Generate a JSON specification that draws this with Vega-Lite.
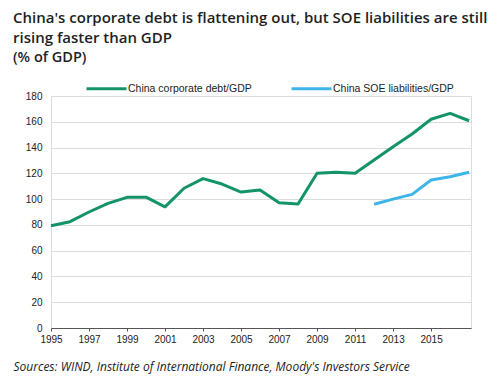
{
  "$schema": "https://vega.github.io/schema/vega-lite/v6.json",
  "autosize": "none",
  "width": 420,
  "height": 232,
  "padding": {"left": 51, "top": 96, "right": 29, "bottom": 60},
  "background": "white",
  "title": {
    "text": ["China's corporate debt is flattening out, but SOE liabilities are still", "rising faster than GDP"],
    "subtitle": "(% of GDP)",
    "anchor": "start",
    "frame": "group",
    "dx": -38,
    "font": "Open Sans",
    "fontSize": 15,
    "fontWeight": 600,
    "color": "#1f1f1f",
    "lineHeight": 20,
    "subtitleFont": "Open Sans",
    "subtitleFontSize": 14.5,
    "subtitleFontWeight": 600,
    "subtitleColor": "#1f1f1f",
    "subtitlePadding": 5,
    "offset": 3
  },
  "data": {
    "values": [
      {"year": 1995, "series": "China corporate debt/GDP", "value": 79.4},
      {"year": 1996, "series": "China corporate debt/GDP", "value": 82.5},
      {"year": 1997, "series": "China corporate debt/GDP", "value": 90},
      {"year": 1998, "series": "China corporate debt/GDP", "value": 96.7},
      {"year": 1999, "series": "China corporate debt/GDP", "value": 101.4},
      {"year": 2000, "series": "China corporate debt/GDP", "value": 101.5},
      {"year": 2001, "series": "China corporate debt/GDP", "value": 94},
      {"year": 2002, "series": "China corporate debt/GDP", "value": 108.4},
      {"year": 2003, "series": "China corporate debt/GDP", "value": 115.9},
      {"year": 2004, "series": "China corporate debt/GDP", "value": 111.7},
      {"year": 2005, "series": "China corporate debt/GDP", "value": 105.5},
      {"year": 2006, "series": "China corporate debt/GDP", "value": 107},
      {"year": 2007, "series": "China corporate debt/GDP", "value": 97.2},
      {"year": 2008, "series": "China corporate debt/GDP", "value": 96.2},
      {"year": 2009, "series": "China corporate debt/GDP", "value": 120},
      {"year": 2010, "series": "China corporate debt/GDP", "value": 120.8},
      {"year": 2011, "series": "China corporate debt/GDP", "value": 120},
      {"year": 2012, "series": "China corporate debt/GDP", "value": 130.3},
      {"year": 2013, "series": "China corporate debt/GDP", "value": 140.7},
      {"year": 2014, "series": "China corporate debt/GDP", "value": 150.5},
      {"year": 2015, "series": "China corporate debt/GDP", "value": 162},
      {"year": 2016, "series": "China corporate debt/GDP", "value": 166.5},
      {"year": 2017, "series": "China corporate debt/GDP", "value": 160.8},
      {"year": 2012, "series": "China SOE liabilities/GDP", "value": 96},
      {"year": 2013, "series": "China SOE liabilities/GDP", "value": 100},
      {"year": 2014, "series": "China SOE liabilities/GDP", "value": 103.7},
      {"year": 2015, "series": "China SOE liabilities/GDP", "value": 114.8},
      {"year": 2016, "series": "China SOE liabilities/GDP", "value": 117.4},
      {"year": 2017, "series": "China SOE liabilities/GDP", "value": 120.8}
    ]
  },
  "mark": {"type": "line", "strokeWidth": 3, "strokeJoin": "round"},
  "encoding": {
    "x": {
      "field": "year",
      "type": "quantitative",
      "scale": {"domain": [1995, 2017.1], "nice": false, "zero": false},
      "axis": {
        "values": [1995, 1997, 1999, 2001, 2003, 2005, 2007, 2009, 2011, 2013, 2015],
        "format": "d",
        "grid": false,
        "labelFlush": false,
        "labelOverlap": false,
        "domainColor": "#555555",
        "tickColor": "#555555",
        "tickSize": 3,
        "labelFont": "Liberation Sans",
        "labelFontSize": 10,
        "labelColor": "#222222",
        "labelPadding": 3,
        "title": "Sources: WIND, Institute of International Finance, Moody's Investors Service",
        "titleFont": "Open Sans",
        "titleFontStyle": "italic",
        "titleFontWeight": "normal",
        "titleFontSize": 12,
        "titleColor": "#222222",
        "titleAnchor": "start",
        "titleAlign": "left",
        "titleX": -38,
        "titleY": 33
      }
    },
    "y": {
      "field": "value",
      "type": "quantitative",
      "scale": {"domain": [0, 180], "nice": false},
      "axis": {
        "values": [0, 20, 40, 60, 80, 100, 120, 140, 160, 180],
        "domain": false,
        "ticks": false,
        "gridColor": "#dcdcdc",
        "gridWidth": 1,
        "labelFont": "Liberation Sans",
        "labelFontSize": 10,
        "labelColor": "#222222",
        "labelPadding": 9,
        "title": null
      }
    },
    "color": {
      "field": "series",
      "type": "nominal",
      "scale": {"domain": ["China corporate debt/GDP", "China SOE liabilities/GDP"], "range": ["#13936a", "#3db5e8"]},
      "legend": {
        "orient": "none",
        "direction": "horizontal",
        "legendX": 34,
        "legendY": -29,
        "title": null,
        "symbolType": "stroke",
        "symbolSize": 1600,
        "symbolStrokeWidth": 3,
        "labelFont": "Liberation Sans",
        "labelFontSize": 10.5,
        "labelColor": "#222222",
        "labelOffset": 0,
        "columnPadding": 33,
        "padding": 0
      }
    }
  }
}
